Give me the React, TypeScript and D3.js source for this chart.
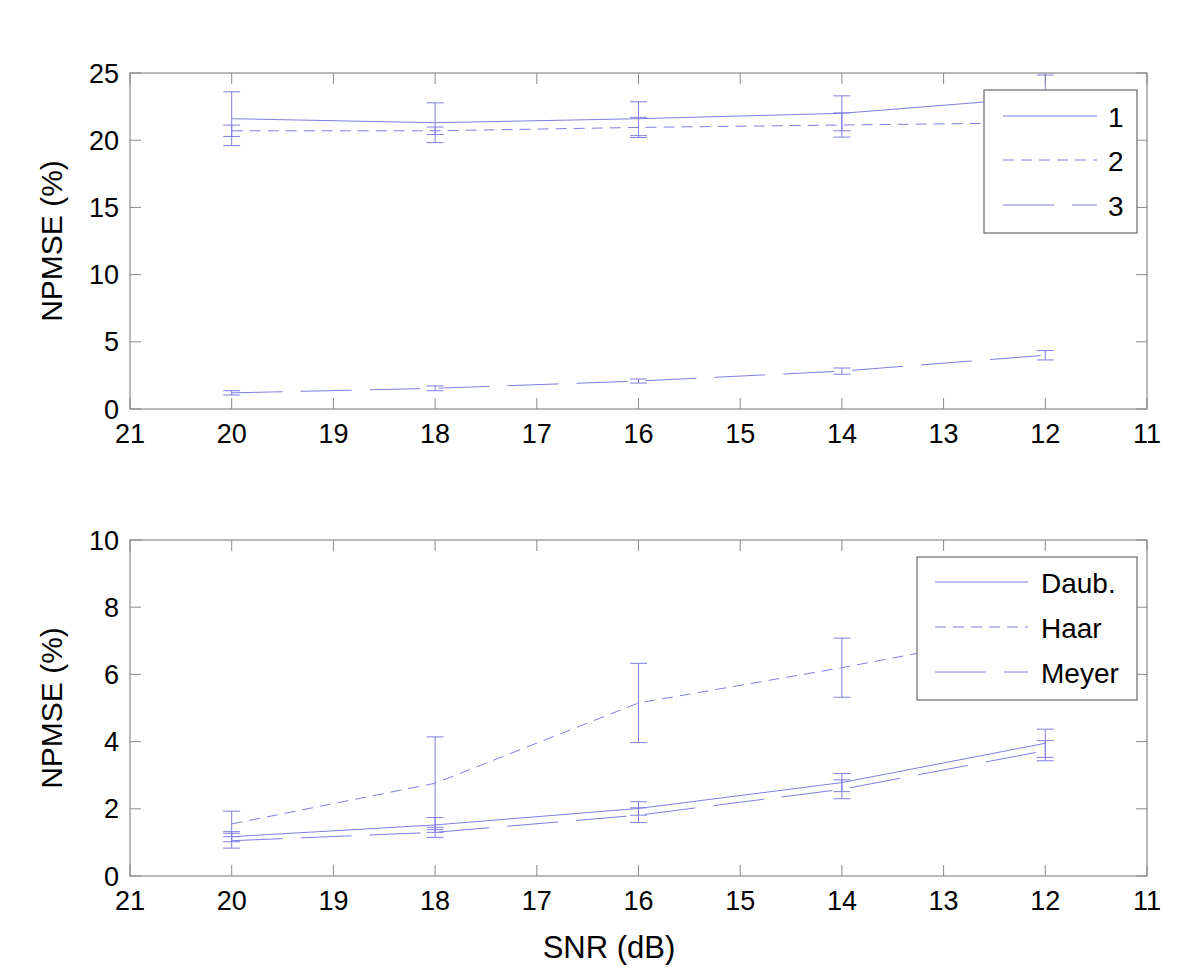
import React from "react";
import * as d3 from "d3";

const snr = [20, 18, 16, 14, 12];
const xTicks = [21, 20, 19, 18, 17, 16, 15, 14, 13, 12, 11];
const topYTicks = [0, 5, 10, 15, 20, 25];
const botYTicks = [0, 2, 4, 6, 8, 10];

const s1 = [21.6, 21.3, 21.6, 22.0, 23.2];
const s1Err = [2.0, 1.48, 1.26, 1.3, 1.65];
const s2 = [20.7, 20.7, 20.95, 21.13, 21.3];
const s2Err = [0.42, 0.28, 0.75, 0.9, 0.6];
const s3 = [1.2, 1.54, 2.08, 2.82, 4.0];
const s3Err = [0.16, 0.18, 0.15, 0.23, 0.35];

const daub = [1.17, 1.52, 2.01, 2.78, 3.95];
const daubErr = [0.15, 0.22, 0.2, 0.27, 0.42];
const haar = [1.55, 2.76, 5.15, 6.2, 7.35];
const haarErr = [0.38, 1.38, 1.18, 0.88, 0.9];
const meyer = [1.05, 1.3, 1.81, 2.58, 3.73];
const meyerErr = [0.22, 0.15, 0.22, 0.28, 0.3];

const topNames = ["1", "2", "3"];
const botNames = ["Daub.", "Haar", "Meyer"];

const LINE = "#7e7ee4";
const AXIS = "#8a8a8a";
const FONT = "'Liberation Sans', Arial, sans-serif";
const dashes = [undefined, "11,7", "51,18"];

type Series = { vals: number[]; err: number[] };

function Panel(props: {
  top: number;
  bottom: number;
  yDomain: [number, number];
  yTicks: number[];
  series: Series[];
  names: string[];
  legend: { x0: number; y0: number; x1: number; y1: number; lx0: number; lx1: number; tx: number; rows: number[] };
  xLabel?: string;
}) {
  const { top, bottom, yDomain, yTicks, series, names, legend } = props;
  const left = 130;
  const right = 1147;
  const x = d3.scaleLinear().domain([21, 11]).range([left, right]);
  const y = d3.scaleLinear().domain(yDomain).range([bottom, top]);
  const line = d3
    .line<number>()
    .x((_, i) => x(snr[i]))
    .y((d) => y(d));
  const tl = 11;
  const cap = 8.5;
  return (
    <g>
      {series.map((s, si) => (
        <g key={si}>
          <path d={line(s.vals) || ""} fill="none" stroke={LINE} strokeWidth={1} strokeDasharray={dashes[si]} />
          {s.vals.map((v, i) => {
            const cx = x(snr[i]);
            const yt = y(v + s.err[i]);
            const yb = y(v - s.err[i]);
            return (
              <g key={i} stroke={LINE} strokeWidth={1}>
                <line x1={cx} x2={cx} y1={yt} y2={yb} />
                <line x1={cx - cap} x2={cx + cap} y1={yt} y2={yt} />
                <line x1={cx - cap} x2={cx + cap} y1={yb} y2={yb} />
              </g>
            );
          })}
        </g>
      ))}
      <rect x={left} y={top} width={right - left} height={bottom - top} fill="none" stroke={AXIS} strokeWidth={1.2} />
      {xTicks.map((t) => (
        <g key={"x" + t}>
          <line x1={x(t)} x2={x(t)} y1={bottom} y2={bottom - tl} stroke={AXIS} />
          <line x1={x(t)} x2={x(t)} y1={top} y2={top + tl} stroke={AXIS} />
          <text x={x(t)} y={bottom + 34} textAnchor="middle" fontSize={27} fontFamily={FONT} fill="#000">
            {t}
          </text>
        </g>
      ))}
      {yTicks.map((t) => (
        <g key={"y" + t}>
          <line x1={left} x2={left + tl} y1={y(t)} y2={y(t)} stroke={AXIS} />
          <line x1={right} x2={right - tl} y1={y(t)} y2={y(t)} stroke={AXIS} />
          <text x={119} y={y(t) + 9.5} textAnchor="end" fontSize={27} fontFamily={FONT} fill="#000">
            {t}
          </text>
        </g>
      ))}
      <text
        transform={`translate(62,${(top + bottom) / 2}) rotate(-90)`}
        textAnchor="middle"
        fontSize={30}
        fontFamily={FONT}
        fill="#000"
      >
        NPMSE (%)
      </text>
      {props.xLabel && (
        <text x={609} y={bottom + 82} textAnchor="middle" fontSize={31} fontFamily={FONT} fill="#000">
          {props.xLabel}
        </text>
      )}
      <rect
        x={legend.x0}
        y={legend.y0}
        width={legend.x1 - legend.x0}
        height={legend.y1 - legend.y0}
        fill="#fff"
        stroke="#6a6a6a"
        strokeWidth={1.2}
      />
      {names.map((n, i) => (
        <g key={n}>
          <line
            x1={legend.lx0}
            x2={legend.lx1}
            y1={legend.rows[i]}
            y2={legend.rows[i]}
            stroke={LINE}
            strokeWidth={1}
            strokeDasharray={dashes[i]}
          />
          <text x={legend.tx} y={legend.rows[i] + 10.5} fontSize={28} fontFamily={FONT} fill="#000">
            {n}
          </text>
        </g>
      ))}
    </g>
  );
}

export default function App() {
  return (
    <svg width={1200} height={974} style={{ position: "absolute", left: 0, top: 0, background: "#fff" }}>
      <rect width={1200} height={974} fill="#fff" />
      <Panel
        top={73}
        bottom={409}
        yDomain={[0, 25]}
        yTicks={topYTicks}
        series={[
          { vals: s1, err: s1Err },
          { vals: s2, err: s2Err },
          { vals: s3, err: s3Err },
        ]}
        names={topNames}
        legend={{ x0: 984, y0: 90, x1: 1137, y1: 233, lx0: 1003, lx1: 1097, tx: 1108, rows: [116, 160, 205] }}
      />
      <Panel
        top={540}
        bottom={876}
        yDomain={[0, 10]}
        yTicks={botYTicks}
        series={[
          { vals: daub, err: daubErr },
          { vals: haar, err: haarErr },
          { vals: meyer, err: meyerErr },
        ]}
        names={botNames}
        legend={{ x0: 917, y0: 557, x1: 1137, y1: 700, lx0: 935, lx1: 1028, tx: 1041, rows: [582, 627, 672] }}
        xLabel="SNR (dB)"
      />
    </svg>
  );
}
